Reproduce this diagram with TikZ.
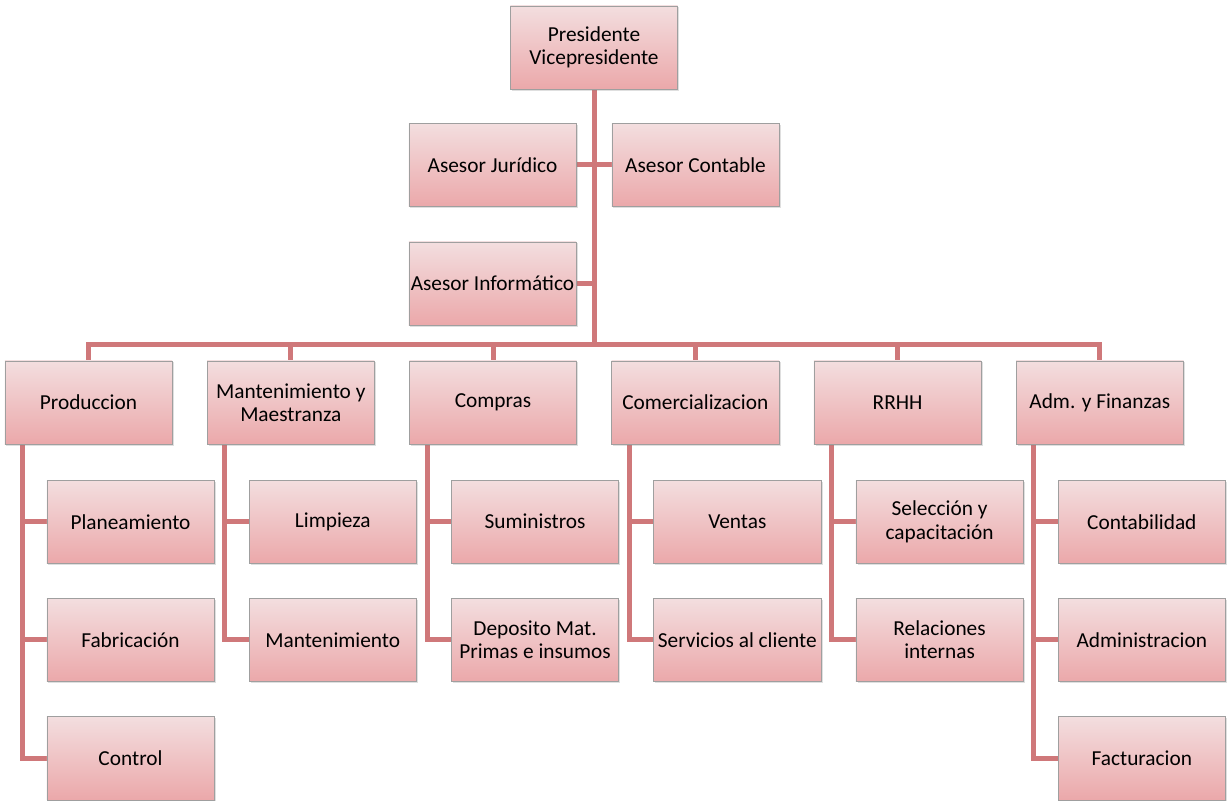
\documentclass[tikz,border=0pt]{standalone}
\usepackage{fontspec}
\setmainfont{Carlito}
\usetikzlibrary{positioning,shadows,backgrounds}
\definecolor{boxtop}{RGB}{243,222,223}
\definecolor{boxbot}{RGB}{235,168,170}
\definecolor{linkred}{RGB}{207,120,122}
\tikzset{%
  % Specifications for style of nodes:
         unit/.style = {rectangle, draw=gray!75, top color=boxtop, bottom color=boxbot,
                        minimum width=125.5pt, minimum height=62.5pt, inner sep=1pt,
                        align=center, font=\fontsize{16}{17.5}\selectfont,
                        drop shadow={shadow xshift=1.2pt, shadow yshift=-1.2pt, opacity=0.25}},
         link/.style = {draw=linkred, line width=3.75pt},
}
\begin{document}
\begin{tikzpicture}[x=0.75pt, y=-0.75pt]
  \useasboundingbox (0,0) rectangle (1227,805);
  % Specification of nodes (position, etc.)
  \node (pres) [unit] at (594,47.5) {Presidente\\Vicepresidente};
  \node (jur)  [unit] at (492.5,165) {Asesor Jurídico};
  \node (cont) [unit] at (695.5,165) {Asesor Contable};
  \node (inf)  [unit, below=26pt of jur] {Asesor Informático};

  \node (prod)  [unit] at (88.5,402.5) {Produccion};
  \node (mant)  [unit, right=25.8pt of prod] {Mantenimiento y\\Maestranza};
  \node (comp)  [unit, right=25.8pt of mant] {Compras};
  \node (comer) [unit, right=25.8pt of comp] {Comercializacion};
  \node (rrhh)  [unit, right=25.8pt of comer] {RRHH};
  \node (adm)   [unit, right=25.8pt of rrhh] {Adm. y Finanzas};

  \node (plan) [unit, below=26.5pt of prod, xshift=31.5pt] {Planeamiento};
  \node (fab)  [unit, below=25.75pt of plan] {Fabricación};
  \node (ctrl) [unit, below=25.75pt of fab] {Control};

  \node (limp) [unit, below=26.5pt of mant, xshift=31.5pt] {Limpieza};
  \node (mnt)  [unit, below=25.75pt of limp] {Mantenimiento};

  \node (sum)  [unit, below=26.5pt of comp, xshift=31.5pt] {Suministros};
  \node (dep)  [unit, below=25.75pt of sum] {Deposito Mat.\\Primas e insumos};

  \node (vent) [unit, below=26.5pt of comer, xshift=31.5pt] {Ventas};
  \node (serv) [unit, below=25.75pt of vent] {Servicios al cliente};

  \node (sel)  [unit, below=26.5pt of rrhh, xshift=31.5pt] {Selección y\\capacitación};
  \node (rel)  [unit, below=25.75pt of sel] {Relaciones\\internas};

  \node (conta) [unit, below=26.5pt of adm, xshift=31.5pt] {Contabilidad};
  \node (admin) [unit, below=25.75pt of conta] {Administracion};
  \node (fact)  [unit, below=25.75pt of admin] {Facturacion};

  \coordinate (hub) at (594,345);

  % Specification of lines between nodes specified above
  \begin{scope}[on background layer]
    \draw[link] (pres) -- (hub);
    \draw[link] (jur.east) -- (jur -| hub);
    \draw[link] (cont.west) -- (cont -| hub);
    \draw[link] (inf.east) -- (inf -| hub);
    \draw[link] (prod.north) |- (hub) -| (adm.north);
    \foreach \n in {mant,comp,comer,rrhh}
      \draw[link] (\n.north) -- (\n.north |- hub);
    % sub units hang from the left side of each box
    \foreach \p/\c in {prod/plan,prod/fab,prod/ctrl,mant/limp,mant/mnt,
                       comp/sum,comp/dep,comer/vent,comer/serv,
                       rrhh/sel,rrhh/rel,adm/conta,adm/admin,adm/fact}
      \draw[link] ([xshift=13.5pt]\p.south west) |- (\c.west);
  \end{scope}
\end{tikzpicture}
\end{document}
